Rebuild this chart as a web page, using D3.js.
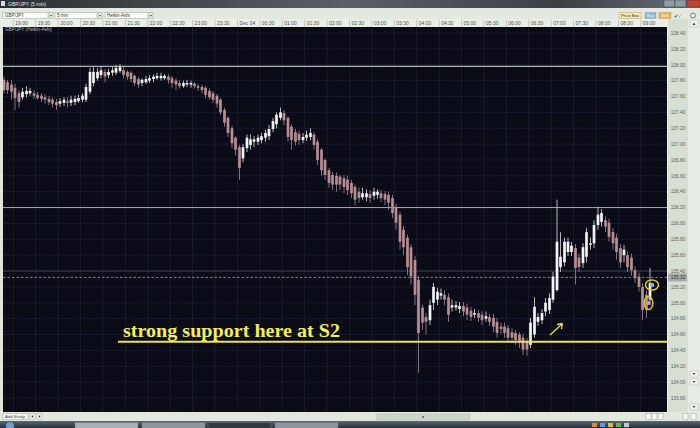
<!DOCTYPE html>
<html><head><meta charset="utf-8">
<script src="https://cdn.jsdelivr.net/npm/d3@7"></script>
<style>
body{margin:0;background:#000;overflow:hidden}
svg{display:block}
text{font-family:"Liberation Sans",Arial,sans-serif}
text.serif{font-family:"Liberation Serif","Times New Roman",serif}
</style></head>
<body><svg id="c" width="700" height="428"></svg>
<script>
// ---- data (GBP/JPY 5 min, Heikin-Ashi) ----
const opens = [
137.81,137.78,137.75,137.71,137.64,137.59,137.63,137.64,137.64,137.62,
137.61,137.59,137.57,137.56,137.53,137.51,137.52,137.54,137.52,137.53,
137.54,137.56,137.56,137.66,137.77,137.83,137.87,137.91,137.87,137.90,
137.90,137.92,137.93,137.91,137.90,137.86,137.82,137.77,137.78,137.80,
137.82,137.83,137.83,137.83,137.85,137.83,137.80,137.77,137.73,137.75,
137.75,137.76,137.73,137.72,137.71,137.67,137.64,137.61,137.56,137.43,
137.33,137.20,137.08,136.96,136.82,136.95,136.99,137.03,137.03,137.05,
137.08,137.10,137.19,137.25,137.33,137.39,137.33,137.22,137.15,137.13,
137.05,137.08,137.09,137.12,137.03,136.93,136.80,136.67,136.61,136.60,
136.59,136.57,136.55,136.51,136.46,136.40,136.33,136.33,136.37,136.35,
136.36,136.38,136.37,136.36,136.32,136.21,136.11,135.92,135.82,135.70,
135.54,135.29,134.94,134.82,134.78,135.00,135.04,135.09,135.10,135.07,
134.94,134.94,134.92,134.96,134.94,134.90,134.85,134.87,134.85,134.80,
134.82,134.81,134.76,134.70,134.70,134.68,134.63,134.62,134.60,134.56,
134.51,134.47,134.60,134.76,134.78,134.89,134.91,135.04,135.16,135.45,
135.51,135.64,135.64,135.69,135.57,135.50,135.58,135.73,135.75,135.98,
136.02,136.04,136.01,135.89,135.82,135.69,135.60,135.60,135.57,135.41,
135.33,135.20,135.10,135.04];
const highs = [
137.85,137.81,137.81,137.76,137.68,137.71,137.73,137.71,137.68,137.66,
137.64,137.63,137.61,137.59,137.57,137.58,137.59,137.59,137.61,137.61,
137.62,137.64,137.76,137.96,137.97,137.96,137.98,137.95,137.95,137.97,
138.00,138.01,137.97,137.93,137.92,137.88,137.85,137.83,137.86,137.87,
137.88,137.90,137.90,137.88,137.88,137.86,137.83,137.81,137.80,137.81,
137.80,137.78,137.76,137.75,137.73,137.70,137.67,137.63,137.58,137.46,
137.35,137.23,137.10,136.99,137.00,137.12,137.12,137.10,137.12,137.14,
137.18,137.24,137.33,137.40,137.46,137.43,137.35,137.25,137.19,137.17,
137.14,137.17,137.20,137.15,137.06,136.95,136.82,136.70,136.65,136.64,
136.61,136.61,136.60,136.55,136.49,136.45,136.45,136.43,136.42,136.45,
136.43,136.42,136.41,136.40,136.36,136.25,136.15,135.97,135.86,135.74,
135.59,135.34,134.97,134.87,135.04,135.25,135.19,135.18,135.16,135.12,
135.04,135.02,135.01,135.01,134.99,134.95,134.92,134.91,134.89,134.89,
134.86,134.86,134.81,134.75,134.75,134.72,134.68,134.66,134.63,134.61,
134.56,134.81,135.07,134.87,134.92,135.06,135.12,135.39,136.30,135.89,
135.82,135.82,135.77,135.74,135.62,135.75,135.94,135.82,136.04,136.21,
136.18,136.09,136.06,135.94,135.87,135.74,135.73,135.65,135.62,135.46,
135.38,135.25,135.15,135.44];
const lows = [
137.64,137.63,137.56,137.43,137.46,137.56,137.59,137.61,137.57,137.56,
137.53,137.51,137.49,137.46,137.43,137.47,137.48,137.46,137.48,137.49,
137.52,137.53,137.53,137.63,137.73,137.80,137.83,137.78,137.83,137.86,
137.87,137.90,137.83,137.81,137.78,137.73,137.71,137.73,137.76,137.77,
137.78,137.81,137.80,137.81,137.76,137.71,137.68,137.70,137.71,137.72,
137.71,137.70,137.67,137.64,137.58,137.56,137.52,137.46,137.37,137.22,
137.09,136.95,136.86,136.55,136.77,136.90,136.93,136.96,136.99,137.01,
137.03,137.05,137.15,137.20,137.30,137.24,137.03,136.93,136.98,136.99,
137.01,137.04,137.05,136.93,136.74,136.60,136.55,136.45,136.42,136.40,
136.42,136.38,136.36,136.32,136.23,136.26,136.30,136.28,136.26,136.30,
136.31,136.27,136.23,136.17,136.07,135.92,135.67,135.60,135.35,135.23,
134.97,134.12,134.66,134.60,134.72,134.91,134.97,135.04,134.97,134.76,
134.89,134.90,134.87,134.83,134.78,134.77,134.81,134.76,134.72,134.76,
134.71,134.63,134.56,134.61,134.56,134.51,134.49,134.47,134.43,134.34,
134.33,134.43,134.56,134.71,134.73,134.83,134.86,135.00,135.14,135.39,
135.46,135.59,135.59,135.23,135.39,135.44,135.51,135.67,135.69,135.92,
135.96,135.89,135.77,135.67,135.54,135.44,135.51,135.39,135.34,135.25,
135.14,134.78,134.81,134.97];
const closes = [
137.68,137.68,137.66,137.58,137.53,137.66,137.67,137.67,137.61,137.58,
137.57,137.56,137.53,137.51,137.49,137.54,137.56,137.52,137.56,137.57,
137.58,137.61,137.72,137.91,137.91,137.91,137.93,137.85,137.91,137.93,
137.96,137.97,137.87,137.85,137.82,137.77,137.75,137.81,137.82,137.83,
137.85,137.86,137.86,137.86,137.81,137.77,137.75,137.73,137.77,137.77,
137.77,137.73,137.71,137.68,137.62,137.59,137.56,137.51,137.40,137.27,
137.14,137.01,136.93,136.70,136.96,137.08,137.06,137.06,137.08,137.10,
137.14,137.19,137.29,137.37,137.40,137.30,137.09,137.05,137.03,137.05,
137.09,137.12,137.14,136.99,136.80,136.67,136.61,136.51,136.49,136.49,
136.49,136.46,136.42,136.38,136.30,136.32,136.38,136.38,136.32,136.40,
136.40,136.32,136.30,136.26,136.13,136.01,135.77,135.70,135.45,135.33,
135.10,134.62,134.75,134.76,134.97,135.20,135.14,135.12,135.04,134.85,
134.97,134.97,134.96,134.89,134.85,134.82,134.87,134.81,134.78,134.83,
134.76,134.70,134.62,134.67,134.62,134.56,134.56,134.53,134.51,134.41,
134.41,134.75,134.95,134.82,134.87,135.00,135.06,135.33,135.77,135.58,
135.77,135.77,135.72,135.44,135.45,135.70,135.89,135.75,135.98,136.11,
136.13,135.96,135.83,135.75,135.64,135.51,135.67,135.45,135.41,135.31,
135.20,134.91,134.91,135.25];

const timeLabels = ["19:00","19:30","20:00","20:30","21:00","21:30","22:00","22:30","23:00","23:30",
 "Dec 04","00:30","01:00","01:30","02:00","02:30","03:00","03:30","04:00","04:30",
 "05:00","05:30","06:00","06:30","07:00","07:30","08:00","08:30","09:00"];
const priceTicks = [138.40,138.20,138.00,137.80,137.60,137.40,137.20,137.00,136.80,136.60,136.40,
 136.20,136.00,135.80,135.60,135.40,135.20,135.00,134.80,134.60,134.40,134.20,134.00,133.80];
const levelLines = [137.98, 136.20];   // drawn resistance lines
const gridLevel = 135.40;
const lastPrice = 135.32;
const supportS2 = 134.51;
const supportLabel = "strong support here at S2";

// ---- layout ----
const W = 700, H = 428;
const CL = 3, CR = 667, CT = 27, CB = 412;
const svg = d3.select("#c");
const defs = svg.append("defs");

const start = new Date(2008, 11, 3, 18, 45);
const times = opens.map((_, i) => d3.timeMinute.offset(start, 5 * i));
const step = 3.735;
const x = d3.scaleTime().domain([times[0], times[times.length - 1]])
  .range([4, 4 + step * (times.length - 1)]);
const y = d3.scaleLinear().domain([133.8, 138.4]).range([398, 33]);

// base panel
svg.append("rect").attr("width", W).attr("height", H).attr("fill", "#dfe5db");

// title bar
const tg = defs.append("linearGradient").attr("id", "tb").attr("x1", 0).attr("x2", 1);
tg.append("stop").attr("offset", 0).attr("stop-color", "#2c3036");
tg.append("stop").attr("offset", 0.5).attr("stop-color", "#5a6068");
tg.append("stop").attr("offset", 0.8).attr("stop-color", "#3b4047");
tg.append("stop").attr("offset", 1).attr("stop-color", "#6a7078");
svg.append("rect").attr("width", W).attr("height", 8).attr("fill", "url(#tb)");
svg.append("rect").attr("x", 1).attr("y", 1).attr("width", 4).attr("height", 5).attr("fill", "#d8d8d8");
svg.append("text").attr("x", 8).attr("y", 6).attr("font-size", 5).attr("fill", "#e6e6e6").text("GBP/JPY (5 min)");
[[664, 11, "#8f9aa6"], [675, 11, "#8f9aa6"], [687, 13, "#c5422c"]].forEach(([bx, bw, c]) => {
  svg.append("rect").attr("x", bx).attr("y", 0).attr("width", bw).attr("height", 7).attr("fill", c).attr("stroke", "#3a3f45").attr("stroke-width", 0.5);
});

// toolbar
svg.append("rect").attr("x", 0).attr("y", 8).attr("width", W).attr("height", 11).attr("fill", "#e3e9df");
[[3, 45, "GBP/JPY"], [55, 42, "5 min"], [105, 43, "Heikin-Ashi"]].forEach(([bx, bw, t]) => {
  svg.append("rect").attr("x", bx).attr("y", 12.5).attr("width", bw).attr("height", 6).attr("fill", "#fbfdfa").attr("stroke", "#9aa398").attr("stroke-width", 0.5);
  svg.append("text").attr("x", bx + 2).attr("y", 17.3).attr("font-size", 4.5).attr("fill", "#333").text(t);
  svg.append("rect").attr("x", bx + bw + 1).attr("y", 12.5).attr("width", 4).attr("height", 6).attr("fill", "#e7ece5").attr("stroke", "#9aa398").attr("stroke-width", 0.5);
  svg.append("path").attr("d", `M${bx + bw + 2},15 l2,0 l-1,1.5z`).attr("fill", "#333");
});
[[619, 22, "Price Box", "#f6e9a4", "#333"], [645, 11, "Buy", "#7db7ec", "#fff"], [659, 12, "Sell", "#f0b24c", "#fff"]].forEach(([bx, bw, t, c, tc]) => {
  svg.append("rect").attr("x", bx).attr("y", 12.5).attr("width", bw).attr("height", 6).attr("fill", c).attr("stroke", "#a59a70").attr("stroke-width", 0.4);
  svg.append("text").attr("x", bx + bw / 2).attr("y", 17.2).attr("text-anchor", "middle").attr("font-size", 4.2).attr("fill", tc).text(t);
});
svg.append("text").attr("x", 674).attr("y", 17.5).attr("font-size", 5).attr("fill", "#444").text("✔ ∕");
svg.append("circle").attr("cx", 693).attr("cy", 15.5).attr("r", 2.5).attr("fill", "none").attr("stroke", "#555").attr("stroke-width", 0.7);

// time axis strip
svg.append("rect").attr("x", 0).attr("y", 19).attr("width", CR).attr("height", 8).attr("fill", "#e9eee6");
const tickTimes = d3.timeMinute.every(30).range(d3.timeMinute.offset(start, 15), times[times.length - 1]);
const tAxis = svg.append("g");
tickTimes.forEach((t, i) => {
  const tx = x(t) - step / 2;
  tAxis.append("line").attr("x1", tx).attr("x2", tx).attr("y1", 19.5).attr("y2", 27).attr("stroke", "#a8b0a6").attr("stroke-width", 0.6);
  tAxis.append("text").attr("x", tx + 2).attr("y", 25).attr("font-size", 5).attr("fill", "#555").text(timeLabels[i]);
});

// chart area
svg.append("rect").attr("x", CL).attr("y", CT).attr("width", CR - CL).attr("height", CB - CT).attr("fill", "#0a0b16");
defs.append("clipPath").attr("id", "clip").append("rect").attr("x", CL).attr("y", CT).attr("width", CR - CL).attr("height", CB - CT);
const plot = svg.append("g").attr("clip-path", "url(#clip)");

// grid
times.forEach(t => {
  const gx = x(t) - step / 2;
  plot.append("line").attr("x1", gx).attr("x2", gx).attr("y1", CT).attr("y2", CB).attr("stroke", "#11131f").attr("stroke-width", 0.6);
});
tickTimes.forEach(t => {
  const gx = x(t) - step / 2;
  plot.append("line").attr("x1", gx).attr("x2", gx).attr("y1", CT).attr("y2", CB).attr("stroke", "#1d2030").attr("stroke-width", 0.8);
});
d3.range(133.5, 138.7, 0.2).forEach(p => {
  plot.append("line").attr("x1", CL).attr("x2", CR).attr("y1", y(p)).attr("y2", y(p)).attr("stroke", "#121421").attr("stroke-width", 0.6);
});
priceTicks.forEach(p => {
  plot.append("line").attr("x1", CL).attr("x2", CR).attr("y1", y(p)).attr("y2", y(p)).attr("stroke", "#1c1f2e").attr("stroke-width", 0.8);
});

// level lines
plot.append("line").attr("x1", CL).attr("x2", CR).attr("y1", y(levelLines[0])).attr("y2", y(levelLines[0])).attr("stroke", "#dcdcdc").attr("stroke-width", 1);
plot.append("line").attr("x1", CL).attr("x2", CR).attr("y1", y(levelLines[1])).attr("y2", y(levelLines[1])).attr("stroke", "#a9a9ae").attr("stroke-width", 1);
plot.append("line").attr("x1", CL).attr("x2", CR).attr("y1", y(gridLevel)).attr("y2", y(gridLevel)).attr("stroke", "#3c3e48").attr("stroke-width", 1);
plot.append("line").attr("x1", CL).attr("x2", CR).attr("y1", y(lastPrice)).attr("y2", y(lastPrice)).attr("stroke", "#9c9ca4").attr("stroke-width", 0.8).attr("stroke-dasharray", "2.5,2");

// candles
const bw = 2.7;
const cg = plot.append("g");
times.forEach((t, i) => {
  const o = opens[i], c = closes[i], h = highs[i], l = lows[i];
  const up = c >= o;
  const cx = Math.round(x(t) * 2) / 2;
  cg.append("line").attr("x1", cx).attr("x2", cx).attr("y1", y(h)).attr("y2", y(l))
    .attr("stroke", up ? "#c9c9cc" : "#8f7d83").attr("stroke-width", 0.9);
  const top = y(Math.max(o, c)), bot = y(Math.min(o, c));
  cg.append("rect").attr("x", cx - bw / 2).attr("y", top).attr("width", bw).attr("height", Math.max(1.2, bot - top))
    .attr("fill", up ? "#f3f3f3" : "#b68e93");
});

// support line & annotation
svg.append("line").attr("x1", 118).attr("x2", 669).attr("y1", y(supportS2)).attr("y2", y(supportS2)).attr("stroke", "#efe04a").attr("stroke-width", 2);
svg.append("text").attr("class", "serif").attr("x", 123).attr("y", 337)
  .style("font-weight", "bold").style("font-size", "19.5px").attr("fill", "#f3ee5c")
  .attr("textLength", 217).attr("lengthAdjust", "spacingAndGlyphs").text(supportLabel);
svg.append("path").attr("d", "M550,335 L562.5,323.5 M562.5,323.5 L557,324.5 M562.5,323.5 L561.5,329")
  .attr("stroke", "#e9d84c").attr("stroke-width", 1.3).attr("fill", "none");
svg.append("circle").attr("cx", 652).attr("cy", 285).attr("r", 2.3).attr("fill", "#7cc1bf");
svg.append("circle").attr("cx", 648.5).attr("cy", 303).attr("r", 2).attr("fill", "#b3a3e6");
svg.append("ellipse").attr("cx", 652).attr("cy", 285).attr("rx", 6.5).attr("ry", 5).attr("fill", "none").attr("stroke", "#e8c424").attr("stroke-width", 1.5);
svg.append("ellipse").attr("cx", 648.5).attr("cy", 303).attr("rx", 4.3).attr("ry", 6.5).attr("fill", "none").attr("stroke", "#e8c424").attr("stroke-width", 1.5);

// chart label
svg.append("text").attr("x", 5).attr("y", 31).attr("font-size", 4.6).attr("fill", "#b9bcc4").text("GBP/JPY (Heikin-Ashi)");

// price axis
svg.append("rect").attr("x", CR).attr("y", 19).attr("width", 21).attr("height", CB - 19).attr("fill", "#d7ded2");
svg.append("line").attr("x1", CR + 0.5).attr("x2", CR + 0.5).attr("y1", 19).attr("y2", CB).attr("stroke", "#eef2ec").attr("stroke-width", 1);
priceTicks.forEach(p => {
  svg.append("text").attr("x", 678).attr("y", y(p) + 1.8).attr("text-anchor", "middle").attr("font-size", 4.8).attr("fill", "#5a5f5a").text(p.toFixed(2));
});
svg.append("rect").attr("x", 668).attr("y", y(lastPrice) - 4).attr("width", 19).attr("height", 8).attr("fill", "#a7aca8");
svg.append("text").attr("x", 678).attr("y", y(lastPrice) + 1.8).attr("text-anchor", "middle").attr("font-size", 4.8).attr("fill", "#2e2e2e").text(lastPrice.toFixed(2));

// right scrollbar
svg.append("rect").attr("x", 688).attr("y", 19).attr("width", 12).attr("height", CB - 19).attr("fill", "#e6ebe3");
svg.append("rect").attr("x", 690).attr("y", 20).attr("width", 8).attr("height", 7).attr("fill", "#f2f4f0").attr("stroke", "#aab2a6").attr("stroke-width", 0.5);
svg.append("path").attr("d", "M692.5,25 L694,22.5 L695.5,25z").attr("fill", "#444");
[371, 379, 404].forEach(by => {
  svg.append("rect").attr("x", 690).attr("y", by).attr("width", 8).attr("height", 6).attr("fill", "#f2f4f0").attr("stroke", "#aab2a6").attr("stroke-width", 0.5);
  svg.append("path").attr("d", `M692.5,${by + 2} L695.5,${by + 2} L694,${by + 4}z`).attr("fill", "#444");
});

// bottom study bar
svg.append("rect").attr("x", 0).attr("y", CB).attr("width", W).attr("height", 9).attr("fill", "#e2e8de");
svg.append("rect").attr("x", 3).attr("y", 413.5).attr("width", 25).attr("height", 6).attr("fill", "#f6f8f4").attr("stroke", "#9aa398").attr("stroke-width", 0.5);
svg.append("text").attr("x", 5).attr("y", 418.3).attr("font-size", 4.3).attr("fill", "#444").text("Add Study");
[30, 37].forEach(bx => {
  svg.append("rect").attr("x", bx).attr("y", 413.5).attr("width", 5).attr("height", 6).attr("fill", "#f6f8f4").attr("stroke", "#9aa398").attr("stroke-width", 0.5);
  svg.append("rect").attr("x", bx + 1.7).attr("y", 415.5).attr("width", 1.6).attr("height", 2).attr("fill", "#444");
});
svg.append("rect").attr("x", 377).attr("y", 414).attr("width", 93).attr("height", 6).attr("fill", "#cfd6cb").attr("stroke", "#a8b0a4").attr("stroke-width", 0.5);
svg.append("rect").attr("x", 422).attr("y", 416).attr("width", 2).attr("height", 2).attr("fill", "#777");
[646, 652, 658, 683, 691].forEach(bx => {
  svg.append("rect").attr("x", bx).attr("y", 413.5).attr("width", 5).attr("height", 6).attr("fill", "#f6f8f4").attr("stroke", "#9aa398").attr("stroke-width", 0.5);
});

// taskbar
const kg = defs.append("linearGradient").attr("id", "tk").attr("x1", 0).attr("x2", 0).attr("y1", 0).attr("y2", 1);
kg.append("stop").attr("offset", 0).attr("stop-color", "#5b6773");
kg.append("stop").attr("offset", 1).attr("stop-color", "#26303a");
svg.append("rect").attr("x", 0).attr("y", 421).attr("width", W).attr("height", 7).attr("fill", "url(#tk)");
svg.append("circle").attr("cx", 10).attr("cy", 426).attr("r", 4).attr("fill", "#6fa0c8");
[[75, "#a9b0b6"], [142, "#8e969d"], [208, "#333a42"], [275, "#8e969d"]].forEach(([bx, c]) => {
  svg.append("rect").attr("x", bx).attr("y", 422.5).attr("width", 63).attr("height", 6).attr("fill", c).attr("stroke", "#6f7880").attr("stroke-width", 0.5);
});
[["#e08a30", 592], ["#5aa0d8", 600], ["#d8c040", 608], ["#60b060", 616], ["#c0c8d0", 624]].forEach(([c, bx]) => {
  svg.append("rect").attr("x", bx).attr("y", 423).attr("width", 5).attr("height", 4).attr("fill", c);
});
</script>
</body></html>
